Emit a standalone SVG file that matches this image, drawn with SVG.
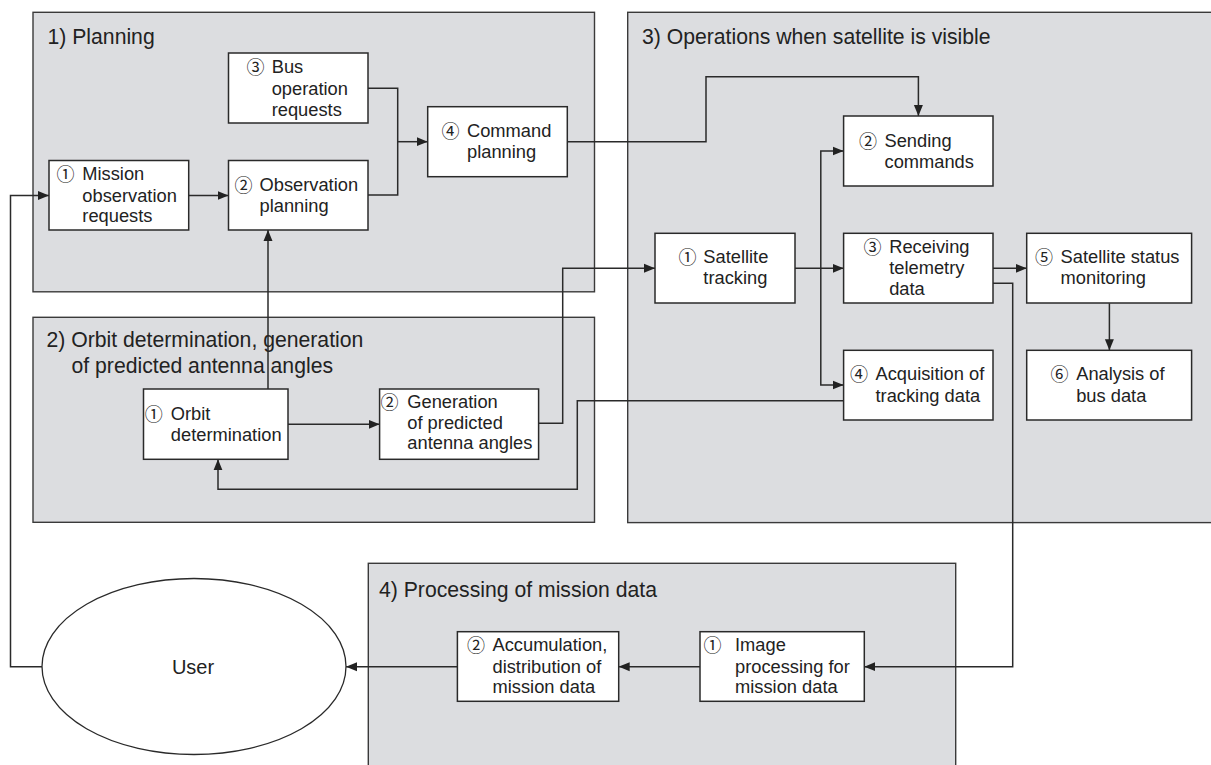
<svg xmlns="http://www.w3.org/2000/svg" width="1211" height="765" viewBox="0 0 1211 765">
<defs>
<style>
.panel{fill:#dcdde0;stroke:#3a3a3a;stroke-width:1.4}
.box{fill:#fff;stroke:#2a2a2a;stroke-width:1.5}
.ttl{font-family:"Liberation Sans",Arial,sans-serif;font-size:21.2px;fill:#222}
.t{font-family:"Liberation Sans",Arial,sans-serif;font-size:18.3px;fill:#222}
.n{font-family:"Noto Sans CJK JP","Noto Sans CJK SC",sans-serif;font-size:18px;fill:#222}
.c{fill:none;stroke:#2a2a2a;stroke-width:1.5}
.a{marker-end:url(#arr)}
</style>
<marker id="arr" markerWidth="11" markerHeight="10" refX="11" refY="5" orient="auto" markerUnits="userSpaceOnUse">
<path d="M0,0.5 L11,5 L0,9.5 z" fill="#222"/>
</marker>
</defs>
<rect width="1211" height="765" fill="#fff"/>

<g id="panels">
<g id="panel-planning"><rect class="panel" x="33" y="12.3" width="561.5" height="279.5"/><text class="ttl" x="47.5" y="44">1) Planning</text></g>
<g id="panel-orbit"><rect class="panel" x="33" y="317.3" width="561.5" height="205"/><text class="ttl" x="46.5" y="347">2) Orbit determination, generation</text><text class="ttl" x="71.5" y="373">of predicted antenna angles</text></g>
<g id="panel-ops"><rect class="panel" x="627.7" y="12.3" width="600" height="510.3"/><text class="ttl" x="642" y="43.5">3) Operations when satellite is visible</text></g>
<g id="panel-proc"><rect class="panel" x="368.3" y="563.3" width="587.4" height="220"/><text class="ttl" x="379" y="597">4) Processing of mission data</text></g>
</g>

<g id="connectors">
<path class="c a" d="M42,666.7 H10.5 V195.5 H49"/>
<path class="c a" d="M188.7,195.5 H228.5"/>
<path class="c" d="M368,88.3 H397.7 V195 H368"/>
<path class="c a" d="M397.7,141.7 H427.7"/>
<path class="c a" d="M268,389 V230"/>
<path class="c a" d="M567.3,141.7 H706 V76.7 H918.4 V116"/>
<path class="c a" d="M288,424.3 H379.6"/>
<path class="c a" d="M538.6,423.3 H562.7 V268.3 H655"/>
<path class="c a" d="M795,268.3 H843.6"/>
<path class="c a" d="M820.8,268.3 V151 H843.6"/>
<path class="c a" d="M820.8,268.3 V385 H843.6"/>
<path class="c a" d="M993,268.3 H1026.7"/>
<path class="c a" d="M1109.4,303.3 V350.3"/>
<path class="c a" d="M993,283.3 H1012.7 V666.7 H864.3"/>
<path class="c a" d="M843.6,400.7 H577.3 V489.3 H218 V459.3"/>
<path class="c a" d="M700,666.7 H618.7"/>
<path class="c a" d="M457.4,666.7 H346"/>
</g>

<g id="node-p1"><rect class="box" x="49" y="160.5" width="139.7" height="69.5"/><text class="n" x="56.5" y="181">①</text><text class="t"><tspan x="82.3" y="180">Mission</tspan><tspan x="82.3" y="201.5">observation</tspan><tspan x="82.3" y="222">requests</tspan></text></g>
<g id="node-p2"><rect class="box" x="228.5" y="160.5" width="139.5" height="69.5"/><text class="n" x="234.5" y="191.5">②</text><text class="t"><tspan x="259.5" y="190.7">Observation</tspan><tspan x="259.5" y="211.7">planning</tspan></text></g>
<g id="node-p3"><rect class="box" x="228.5" y="53" width="139.5" height="70"/><text class="n" x="246.5" y="73.5">③</text><text class="t"><tspan x="271.7" y="72.7">Bus</tspan><tspan x="271.7" y="94.5">operation</tspan><tspan x="271.7" y="115.5">requests</tspan></text></g>
<g id="node-p4"><rect class="box" x="427.7" y="106.7" width="139.6" height="70"/><text class="n" x="441.5" y="137.5">④</text><text class="t"><tspan x="467" y="136.7">Command</tspan><tspan x="467" y="158">planning</tspan></text></g>

<g id="node-o1"><rect class="box" x="143.5" y="389" width="144.5" height="70.3"/><text class="n" x="144.8" y="420.5">①</text><text class="t"><tspan x="170.8" y="420">Orbit</tspan><tspan x="170.8" y="441">determination</tspan></text></g>
<g id="node-o2"><rect class="box" x="379.6" y="389" width="159" height="70.3"/><text class="n" x="380.5" y="409">②</text><text class="t"><tspan x="407.3" y="408.3">Generation</tspan><tspan x="407.3" y="428.8">of predicted</tspan><tspan x="407.3" y="449.3">antenna angles</tspan></text></g>

<g id="node-s1"><rect class="box" x="655" y="233.3" width="140" height="69.7"/><text class="n" x="678.5" y="264">①</text><text class="t"><tspan x="703.3" y="263.3">Satellite</tspan><tspan x="703.3" y="284.3">tracking</tspan></text></g>
<g id="node-s2"><rect class="box" x="843.6" y="116" width="149.4" height="70"/><text class="n" x="859" y="147.5">②</text><text class="t"><tspan x="884.5" y="146.7">Sending</tspan><tspan x="884.5" y="167.5">commands</tspan></text></g>
<g id="node-s3"><rect class="box" x="843.6" y="233.3" width="149.4" height="69.7"/><text class="n" x="863.5" y="254">③</text><text class="t"><tspan x="889.2" y="253.3">Receiving</tspan><tspan x="889.2" y="274">telemetry</tspan><tspan x="889.2" y="295">data</tspan></text></g>
<g id="node-s4"><rect class="box" x="843.6" y="350.3" width="149.4" height="69.7"/><text class="n" x="850" y="381">④</text><text class="t"><tspan x="875.5" y="380.3">Acquisition of</tspan><tspan x="875.5" y="401.7">tracking data</tspan></text></g>
<g id="node-s5"><rect class="box" x="1026.7" y="233.3" width="164.9" height="69.7"/><text class="n" x="1035" y="264">⑤</text><text class="t"><tspan x="1060.6" y="263.3">Satellite status</tspan><tspan x="1060.6" y="284.3">monitoring</tspan></text></g>
<g id="node-s6"><rect class="box" x="1026.7" y="350.3" width="164.9" height="69.7"/><text class="n" x="1050.5" y="381">⑥</text><text class="t"><tspan x="1076.2" y="380.3">Analysis of</tspan><tspan x="1076.2" y="401.7">bus data</tspan></text></g>

<g id="node-m1"><rect class="box" x="700" y="631.7" width="164.3" height="69.6"/><text class="n" x="703.5" y="651.7">①</text><text class="t"><tspan x="735" y="651">Image</tspan><tspan x="735" y="672.5">processing for</tspan><tspan x="735" y="693">mission data</tspan></text></g>
<g id="node-m2"><rect class="box" x="457.4" y="631.7" width="161.3" height="69.6"/><text class="n" x="467" y="651.7">②</text><text class="t"><tspan x="492.5" y="651">Accumulation,</tspan><tspan x="492.5" y="672.5">distribution of</tspan><tspan x="492.5" y="693">mission data</tspan></text></g>

<g id="node-user"><ellipse cx="194" cy="666.5" rx="152" ry="88" fill="#fff" stroke="#2a2a2a" stroke-width="1.3"/><text class="ttl" x="193" y="673.5" text-anchor="middle" style="font-size:20px">User</text></g>
</svg>
